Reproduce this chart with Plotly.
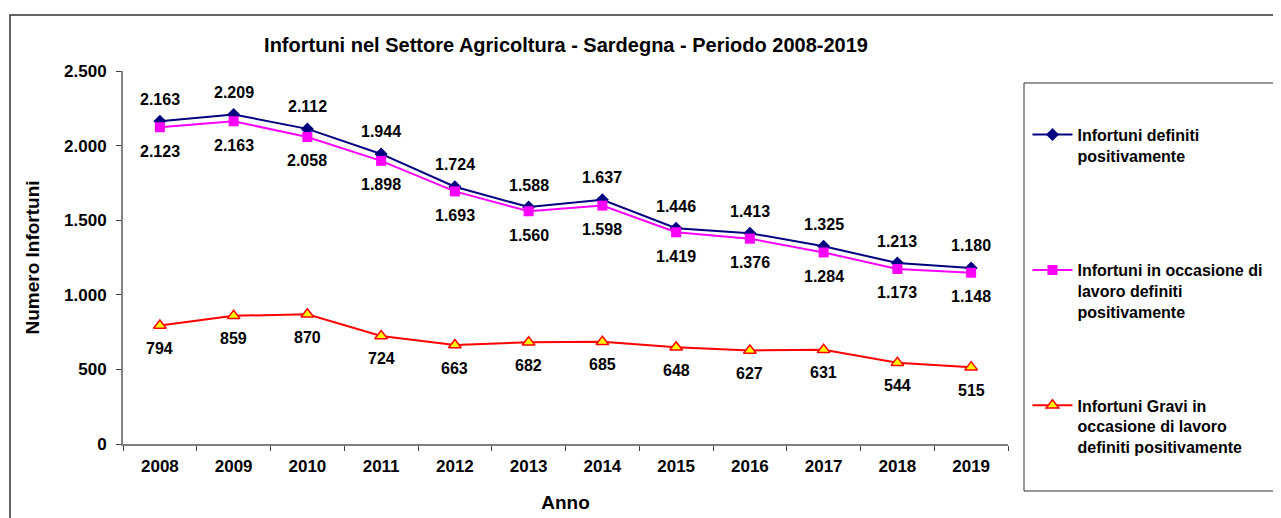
import plotly.graph_objects as go

anni = ["2008", "2009", "2010", "2011", "2012", "2013", "2014", "2015", "2016", "2017", "2018", "2019"]
infortuni_definiti = [2163, 2209, 2112, 1944, 1724, 1588, 1637, 1446, 1413, 1325, 1213, 1180]
infortuni_lavoro = [2123, 2163, 2058, 1898, 1693, 1560, 1598, 1419, 1376, 1284, 1173, 1148]
infortuni_gravi = [794, 859, 870, 724, 663, 682, 685, 648, 627, 631, 544, 515]

nomi = [
    "Infortuni definiti<br>positivamente<br> ",
    "Infortuni in occasione di<br>lavoro definiti<br>positivamente",
    "Infortuni Gravi in<br>occasione di lavoro<br>definiti positivamente",
]

FONT = "Arial, Liberation Sans, sans-serif"
W, H = 1273, 510  # page body has an 8px margin

def fmt(v):
    return f"{v:,}".replace(",", ".")

fig = go.Figure()
fig.add_trace(go.Scatter(
    x=anni, y=infortuni_definiti, mode="lines+markers", name=nomi[0], legendgroup="a",
    line=dict(color="#000080", width=2),
    marker=dict(symbol="diamond", size=10, color="#000080"),
))
fig.add_trace(go.Scatter(
    x=anni, y=infortuni_lavoro, mode="lines+markers", name=nomi[1], legendgroup="b",
    line=dict(color="#FF00FF", width=2),
    marker=dict(symbol="square", size=10, color="#FF00FF"),
))
fig.add_trace(go.Scatter(
    x=anni, y=infortuni_gravi, mode="lines+markers", name=nomi[2], legendgroup="c",
    line=dict(color="#FF0000", width=2),
    marker=dict(symbol="triangle-up", size=11, color="#FFFF00", line=dict(color="#FF0000", width=1.5)),
))

annots = []
for serie, shift in ((infortuni_definiti, 22), (infortuni_lavoro, -24), (infortuni_gravi, -23)):
    for i, v in enumerate(serie):
        annots.append(dict(x=i, y=v, xref="x", yref="y", text=fmt(v), showarrow=False, yshift=shift,
                           font=dict(family=FONT, size=16, color="black", weight="bold")))

fig.update_layout(
    width=W, height=H,
    margin=dict(l=115, r=273, t=63, b=74, autoexpand=False),
    paper_bgcolor="white", plot_bgcolor="white",
    separators=",.",
    font=dict(family=FONT, color="black"),
    title=dict(text="<b>Infortuni nel Settore Agricoltura - Sardegna - Periodo 2008-2019</b>",
               x=558 / W, xanchor="center", y=1 - 37 / H, yanchor="middle",
               font=dict(family=FONT, size=20, color="black")),
    showlegend=True,
    legend=dict(x=1.022, xanchor="left", y=0.875, yanchor="top",
                font=dict(family=FONT, size=16, color="black", weight="bold"),
                bgcolor="rgba(0,0,0,0)", borderwidth=0,
                traceorder="grouped", tracegroupgap=70, valign="top",
                itemwidth=40),
    annotations=annots,
    shapes=[
        dict(type="rect", xref="paper", yref="paper", x0=-0.1277, x1=1.33, y0=-0.25, y1=(444 - 15) / 373,
             line=dict(color="#303030", width=1.5), fillcolor="rgba(0,0,0,0)", layer="below"),
        dict(type="rect", xref="paper", yref="paper", x0=(1024 - 123) / 885, x1=(1279 - 123) / 885,
             y0=(444 - 491) / 373, y1=(444 - 83) / 373,
             line=dict(color="#303030", width=1), fillcolor="rgba(0,0,0,0)", layer="below"),
    ],
)

fig.update_xaxes(
    type="category", range=[-0.5, len(anni) - 0.5], showgrid=False, zeroline=False,
    automargin=False,
    showline=True, linecolor="#808080", linewidth=2,
    ticks="outside", tickson="boundaries", ticklen=5, tickcolor="#404040", tickwidth=1,
    ticklabelstandoff=6,
    tickfont=dict(family=FONT, size=17, color="black", weight="bold"),
    title=dict(text="<b>Anno</b>", font=dict(family=FONT, size=19, color="black"), standoff=20),
)
fig.update_yaxes(
    range=[0, 2500], dtick=500, tickformat=",d", showgrid=False, zeroline=False,
    automargin=False,
    showline=True, linecolor="#808080", linewidth=2,
    ticks="outside", ticklen=5, tickcolor="#404040", tickwidth=1,
    ticklabelstandoff=6,
    tickfont=dict(family=FONT, size=17, color="black", weight="bold"),
    title=dict(text="<b>Numero Infortuni</b>", font=dict(family=FONT, size=19, color="black"), standoff=19),
)

fig.write_html("out.html")
